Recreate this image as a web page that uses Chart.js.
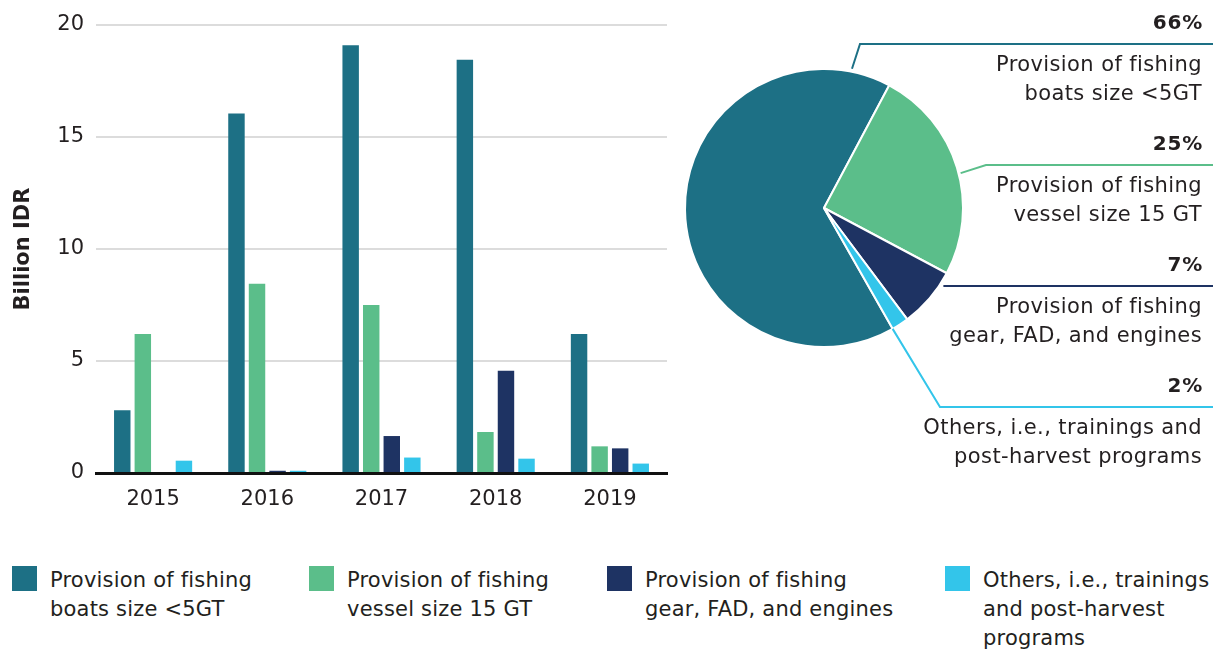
<!DOCTYPE html>
<html>
<head>
<meta charset="utf-8">
<script src="https://cdn.jsdelivr.net/npm/chart.js@4.4.1/dist/chart.umd.min.js"></script>
<style>
  body { margin: 0; background: #fff; }
  #page { position: relative; width: 1213px; height: 650px; overflow: hidden; font-family: "DejaVu Sans", sans-serif; color: #231f20; }
  #bars { position: absolute; left: 0; top: 0; }
  #pie { position: absolute; left: 660px; top: 0; }
  .item { position: absolute; top: 566px; }
  .swatch { position: absolute; left: 0; top: 0; width: 25px; height: 25px; }
  .txt { position: absolute; left: 38px; top: 0; font-size: 21px; line-height: 29px; letter-spacing: 0.2px; white-space: nowrap; }
</style>
</head>
<body>
<div id="page">
  <canvas id="bars" width="680" height="520"></canvas>
  <canvas id="pie" width="553" height="480"></canvas>
  <div id="legend"></div>
</div>
<script>
// yearly spending, billion IDR
const years = ['2015', '2016', '2017', '2018', '2019'];
const boatsUnder5GT = [2.8, 16.05, 19.1, 18.45, 6.2];
const vessel15GT = [6.2, 8.45, 7.5, 1.83, 1.19];
const gearFadEngines = [0, 0.1, 1.65, 4.57, 1.1];
const othersPrograms = [0.55, 0.1, 0.69, 0.64, 0.42];
const yTicks = [0, 5, 10, 15, 20];

// share of the total, %
const sharePercent = [66, 25, 7, 2];

const pieLabelLines = [
  ['Provision of fishing', 'boats size <5GT'],
  ['Provision of fishing', 'vessel size 15 GT'],
  ['Provision of fishing', 'gear, FAD, and engines'],
  ['Others, i.e., trainings and', 'post-harvest programs']
];
const legendLines = [
  ['Provision of fishing', 'boats size <5GT'],
  ['Provision of fishing', 'vessel size 15 GT'],
  ['Provision of fishing', 'gear, FAD, and engines'],
  ['Others, i.e., trainings', 'and post-harvest', 'programs']
];

const colors = ['#1d7085', '#5bbe8a', '#1e3363', '#33c5ea'];
const textColor = '#231f20';
const fontFamily = '"DejaVu Sans", sans-serif';
const barSeries = [boatsUnder5GT, vessel15GT, gearFadEngines, othersPrograms];

Chart.defaults.font.family = fontFamily;
Chart.defaults.color = textColor;

new Chart(document.getElementById('bars'), {
  type: 'bar',
  data: {
    labels: years,
    datasets: barSeries.map((d, i) => ({
      label: legendLines[i].join(' '),
      data: d,
      backgroundColor: colors[i],
      categoryPercentage: 0.72,
      barPercentage: 0.8
    }))
  },
  options: {
    responsive: false,
    animation: false,
    layout: { padding: { top: 25, right: 13, left: 0, bottom: 0 } },
    plugins: { legend: { display: false }, tooltip: { enabled: false } },
    scales: {
      x: {
        grid: { display: false, drawTicks: false },
        border: { display: true, color: '#111', width: 3 },
        ticks: { font: { size: 21 }, color: textColor, padding: 14 },
        afterFit(s) { s.height = 47; }
      },
      y: {
        min: 0,
        max: 20,
        afterBuildTicks(s) { s.ticks = yTicks.map(v => ({ value: v })); },
        ticks: { font: { size: 21 }, color: textColor, padding: 12 },
        grid: { color: '#dcdcdc', lineWidth: 2, drawTicks: false },
        border: { display: false },
        title: {
          display: true,
          text: 'Billion IDR',
          font: { size: 21, weight: 'bold' },
          color: textColor,
          padding: { top: 11, bottom: 0 }
        },
        afterFit(s) { s.width = 96; }
      }
    }
  }
});

// where each leader line leaves its slice and where it turns right
const callouts = [
  { at: 0.93, gap: 3, elbowX: 200, lineY: 44 },
  { at: 0.53, gap: 2, elbowX: 326, lineY: 165 },
  { at: 0.19, gap: 3, elbowX: null, lineY: 286 },
  { at: 1.0, gap: 0, elbowX: 280, lineY: 407 }
];

const pieCallouts = {
  id: 'pieCallouts',
  afterDraw(chart) {
    const ctx = chart.ctx;
    const right = chart.width;
    chart.getDatasetMeta(0).data.forEach((arc, i) => {
      const c = callouts[i];
      const a = arc.startAngle + (arc.endAngle - arc.startAngle) * c.at;
      const r = arc.outerRadius + c.gap;
      const x0 = arc.x + Math.cos(a) * r;
      const y0 = arc.y + Math.sin(a) * r;
      ctx.save();
      ctx.strokeStyle = colors[i];
      ctx.lineWidth = 2;
      ctx.beginPath();
      if (c.elbowX !== null) {
        ctx.moveTo(x0, y0);
        ctx.lineTo(c.elbowX, c.lineY);
      } else {
        ctx.moveTo(x0, c.lineY);
      }
      ctx.lineTo(right, c.lineY);
      ctx.stroke();

      ctx.fillStyle = textColor;
      ctx.textAlign = 'right';
      ctx.textBaseline = 'middle';
      ctx.letterSpacing = '0.8px';
      ctx.font = 'bold 20px ' + fontFamily;
      ctx.fillText(sharePercent[i] + '%', 543, c.lineY - 20);
      ctx.letterSpacing = '0.4px';
      ctx.font = '21px ' + fontFamily;
      pieLabelLines[i].forEach((line, k) => {
        ctx.fillText(line, 542, c.lineY + 22 + k * 29);
      });
      ctx.restore();
    });
  }
};

new Chart(document.getElementById('pie'), {
  type: 'pie',
  data: {
    labels: pieLabelLines.map(l => l.join(' ')),
    datasets: [{
      data: sharePercent,
      backgroundColor: colors,
      borderColor: '#fff',
      borderWidth: 2
    }]
  },
  options: {
    responsive: false,
    animation: false,
    rotation: 150.4,
    layout: { padding: { left: 24, right: 249, top: 68, bottom: 132 } },
    plugins: { legend: { display: false }, tooltip: { enabled: false } }
  },
  plugins: [pieCallouts]
});

// legend below both charts
const legendX = [12, 309, 607, 945];
const legend = document.getElementById('legend');
legendLines.forEach((lines, i) => {
  const item = document.createElement('div');
  item.className = 'item';
  item.style.left = legendX[i] + 'px';
  const sw = document.createElement('div');
  sw.className = 'swatch';
  sw.style.background = colors[i];
  const txt = document.createElement('div');
  txt.className = 'txt';
  txt.innerHTML = lines.join('<br>');
  item.appendChild(sw);
  item.appendChild(txt);
  legend.appendChild(item);
});
</script>
</body>
</html>
